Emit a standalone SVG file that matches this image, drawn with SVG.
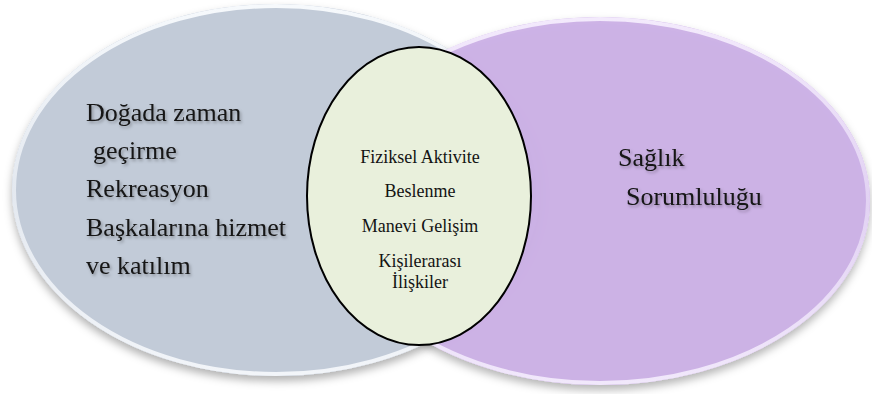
<svg xmlns="http://www.w3.org/2000/svg" width="872" height="394" viewBox="0 0 872 394">
<style>
text{font-family:"Liberation Serif","DejaVu Serif",serif;fill:#141414}
.big{font-size:26px}
.small{font-size:18px;text-anchor:middle}
</style>
<defs>
<filter id="shadow" x="-10%" y="-10%" width="120%" height="125%">
<feDropShadow dx="0" dy="5" stdDeviation="4" flood-color="#000" flood-opacity="0.3"/>
</filter>
<filter id="tshadow" x="-10%" y="-30%" width="120%" height="160%">
<feDropShadow dx="1.5" dy="2" stdDeviation="1.5" flood-color="#000" flood-opacity="0.3"/>
</filter>
<linearGradient id="rimGray" x1="0" y1="0" x2="0" y2="1">
<stop offset="0" stop-color="#f6f9fc"/>
<stop offset="0.5" stop-color="#e4e9f0"/>
<stop offset="1" stop-color="#f2f5f9"/>
</linearGradient>
<linearGradient id="rimPurple" x1="0" y1="0" x2="0" y2="1">
<stop offset="0" stop-color="#f3eafc"/>
<stop offset="0.5" stop-color="#e2d2f3"/>
<stop offset="1" stop-color="#f1e8fb"/>
</linearGradient>
</defs>
<g id="left-circle">
<ellipse cx="276" cy="190" rx="264" ry="186" fill="#c2cbd8" filter="url(#shadow)"/>
<ellipse cx="276" cy="190" rx="262" ry="184" fill="none" stroke="url(#rimGray)" stroke-width="4"/>
<text class="big" font-family="Liberation Serif, DejaVu Serif, serif" filter="url(#tshadow)"><tspan x="86" y="121">Doğada zaman</tspan><tspan x="93" y="159">geçirme</tspan><tspan x="86" y="197">Rekreasyon</tspan><tspan x="86" y="236">Başkalarına hizmet</tspan><tspan x="86" y="274">ve katılım</tspan></text>
</g>
<g id="right-circle">
<ellipse cx="600" cy="201" rx="270" ry="184" fill="#cbb0e6" fill-opacity="0.95" filter="url(#shadow)"/>
<ellipse cx="600" cy="201" rx="268" ry="182" fill="none" stroke="url(#rimPurple)" stroke-width="4"/>
<text class="big" font-family="Liberation Serif, DejaVu Serif, serif" filter="url(#tshadow)"><tspan x="618" y="166">Sağlık</tspan><tspan x="626" y="205">Sorumluluğu</tspan></text>
</g>
<g id="center-circle">
<ellipse cx="419" cy="196" rx="112" ry="149" fill="#e9f0dc" stroke="#000" stroke-width="2"/>
<text class="small" font-family="Liberation Serif, DejaVu Serif, serif"><tspan x="420" y="163">Fiziksel Aktivite</tspan><tspan x="420" y="197">Beslenme</tspan><tspan x="420" y="232">Manevi Gelişim</tspan><tspan x="420" y="267">Kişilerarası</tspan><tspan x="420" y="288">İlişkiler</tspan></text>
</g>
<g id="connectors"></g>
</svg>
